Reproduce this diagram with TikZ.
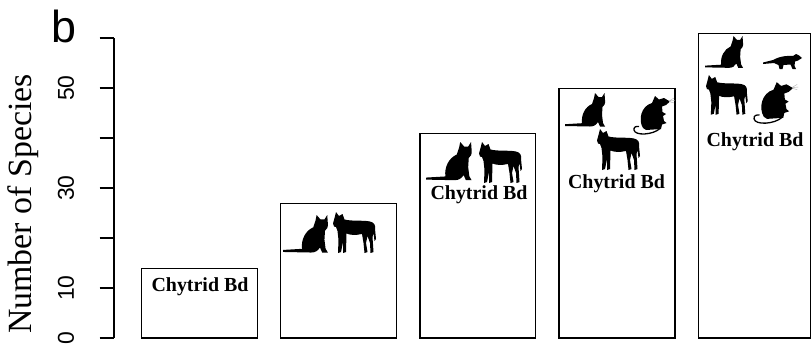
\documentclass[tikz,border=0pt]{standalone}
\usepackage{fontspec}
\setmainfont{Liberation Serif}
\newfontfamily\helv{Liberation Sans}
\definecolor{inkd}{RGB}{0,0,0}
\definecolor{whisk}{RGB}{175,175,175}

\tikzset{
  pics/cat/.style={code={
    \fill[inkd] (0,31.2) -- (17,30.2) .. controls (16,22) and (20,14) .. (27,11) -- (29,5) -- (30,0) -- (33.5,4) -- (37,4) -- (39.5,0) -- (40,7) .. controls (40.5,11) and (39,13) .. (37.5,14) -- (37,22) -- (38,30) -- (40,33.5) -- (35,33.5) -- (33,29) .. controls (31,32) and (29,33.5) .. (25,33.5) -- (0,33) -- cycle;
  }},
  pics/dog/.style={code={
    \fill[inkd] (3,0) -- (6,4) -- (9.5,2) -- (11.5,7.5) .. controls (20,9.5) and (30,8) .. (37,9.5) .. controls (41.5,10.5) and (42.5,13) .. (42,17) -- (43,27) -- (41.5,29) -- (40.5,21) -- (39.5,25) -- (40.5,40) -- (37.5,41) -- (37,31) -- (34.5,24) -- (33,31) -- (34.5,40) -- (31.5,41) -- (30.5,31) -- (29,22) .. controls (22,23.5) and (17,23) .. (13.5,21.5) -- (13,40) -- (10,41) -- (10,30) -- (8,40) -- (5,41) -- (5.5,28) -- (4.5,19) -- (3,15) -- (1,14.5) -- (0,11.5) -- (1.5,6) -- cycle;
  }},
  pics/rat/.style={code={
    \fill[inkd] (10,34) .. controls (5,26) and (8,12) .. (19,9) -- (22,2) -- (26,5.5) -- (31,4) -- (37,7.5) -- (33,11) -- (29,12.5) -- (29.5,18) -- (33,20) -- (30,22) -- (31,27) -- (33.5,29) -- (29,30.5) -- (28,35) -- (13,36) -- cycle;
    \draw[inkd, line width=1.3] (27,34.5) .. controls (20,41) and (2,42) .. (1,36) .. controls (0.5,33) and (3,32) .. (6,32.5);
    \draw[whisk, line width=0.4] (36,7) -- (41,4) (36,7) -- (42,6.5) (36,7.5) -- (41,9);
  }},
  pics/ferret/.style={code={
    \fill[inkd] (0,9.5) -- (10,7) .. controls (17,3) and (25,2.5) .. (30,3) -- (33,1) -- (36,2.5) -- (39,5) -- (35,7.5) -- (32,8.5) -- (31.5,13) -- (33,16) -- (29.5,16) -- (27.5,11.5) -- (20.5,12) -- (19.5,16) -- (16.5,16) -- (15.5,12) -- (11,10) -- (0,11) -- cycle;
  }}
}

\begin{document}
\begin{tikzpicture}[x=1bp, y=-1bp,
    barline/.style={draw=inkd, line width=1.3bp},
    axisline/.style={draw=inkd, line width=1.1bp},
    bdlabel/.style={font=\fontsize{20}{22}\selectfont\bfseries, inner sep=0pt},
    ticklabel/.style={font=\helv\fontsize{23}{25}\selectfont, rotate=90, inner sep=0pt}]
  \useasboundingbox (0,0) rectangle (811,347);
  % axis
  \draw[axisline] (114,38.3) -- (114,338);
  \foreach \t in {0,...,6}
    \draw[axisline] (99.5,{338-50*\t}) -- (114,{338-50*\t});
  \foreach \t in {0,10,30,50}
    \node[ticklabel] (tick\t) at (66,{338-5*\t}) {\t};
  \node[font=\fontsize{34}{36}\selectfont, rotate=90, inner sep=0pt] (ylab) at (23.3,204) {Number of Species};
  \node[font=\helv\fontsize{45}{47}\selectfont, inner sep=0pt] (panel) at (63.7,26.7) {b};
  % bars
  \draw[barline] (141.7,338) rectangle (257.7,268.7);
  \draw[barline] (280.7,338) rectangle (396.7,203.3);
  \draw[barline] (420,338) rectangle (535.7,133.3);
  \draw[barline] (559,338) rectangle (675,88.3);
  \draw[barline] (698.3,338) rectangle (810.3,33.3);
  % labels
  \node[bdlabel] (bd1) at (200,287) {Chytrid Bd};
  \node[bdlabel] (bd3) at (479,195) {Chytrid Bd};
  \node[bdlabel] (bd4) at (616.5,183.3) {Chytrid Bd};
  \node[bdlabel] (bd5) at (755,141.7) {Chytrid Bd};
  % animals
  \pic[scale=1.12] at (283,215) {cat};
  \pic at (333,212) {dog};
  \pic[scale=1.14] at (426,142) {cat};
  \pic at (479,142) {dog};
  \pic at (565,93) {cat};
  \pic at (633,94) {rat};
  \pic at (597,129) {dog};
  \pic[scale=0.95] at (705,36) {cat};
  \pic at (763,53) {ferret};
  \pic[scale=0.97] at (706,75) {dog};
  \pic[scale=1.08] at (753,80) {rat};
\end{tikzpicture}
\end{document}
